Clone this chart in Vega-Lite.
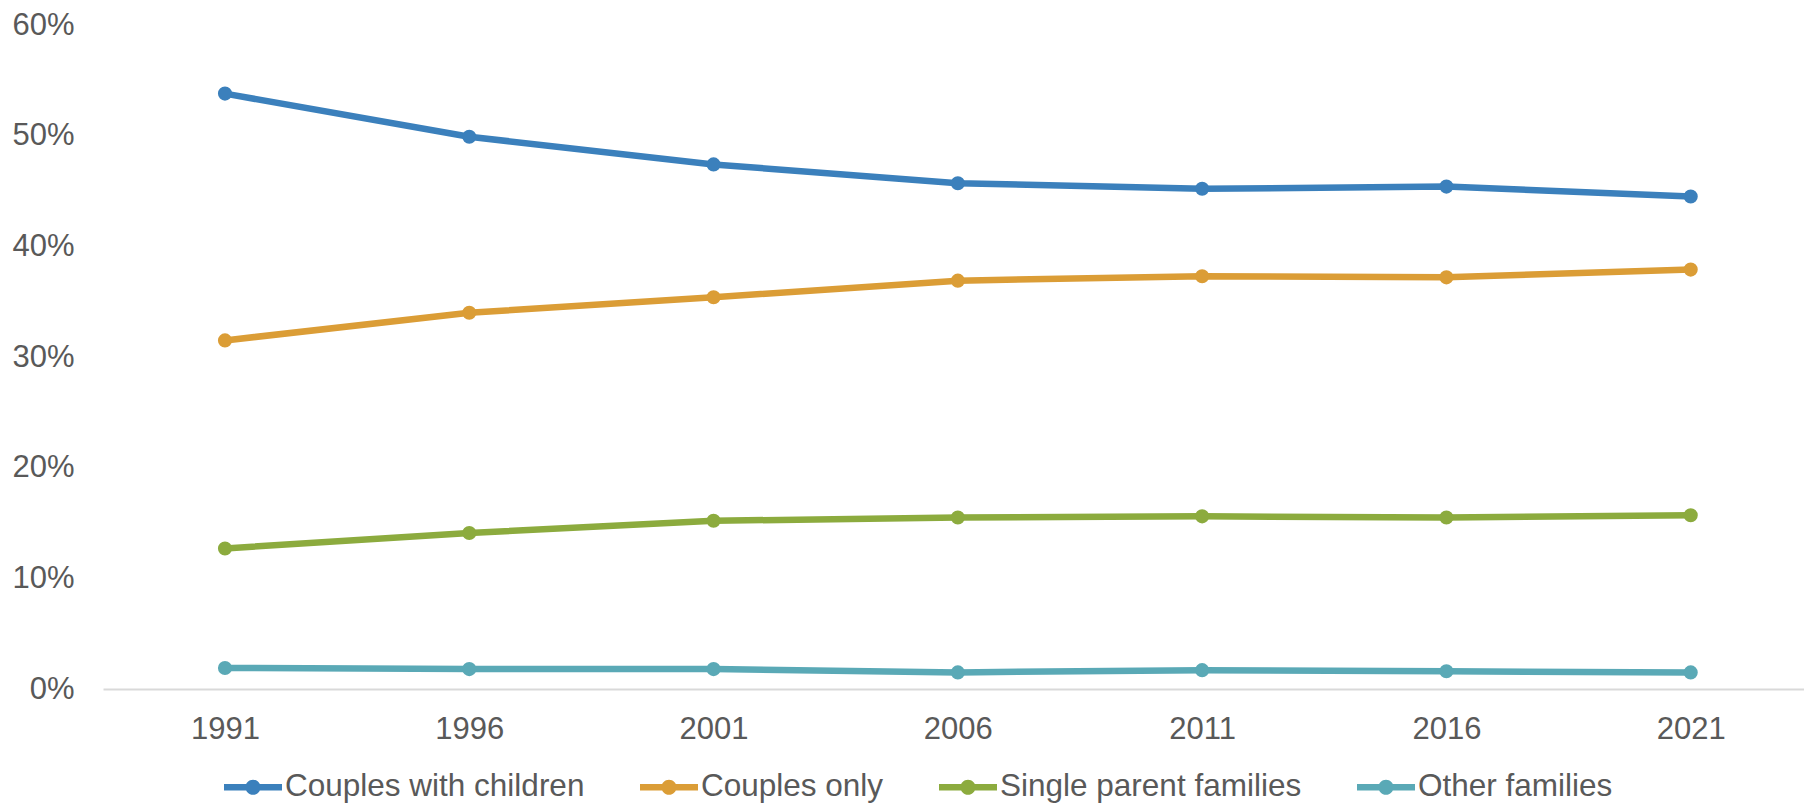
{
  "$schema": "https://vega.github.io/schema/vega-lite/v6.json",
  "width": 1701,
  "height": 664,
  "autosize": {"type": "none"},
  "padding": {"left": 103, "top": 25, "right": 0, "bottom": 116},
  "background": "#ffffff",
  "config": {
    "view": {"stroke": null},
    "font": "Liberation Sans",
    "axis": {"labelFont": "Liberation Sans", "labelColor": "#595959", "labelFontSize": 31, "ticks": false, "tickSize": 0, "grid": false, "title": null},
    "legend": {"labelFont": "Liberation Sans", "labelColor": "#595959", "labelFontSize": 31.5, "labelLimit": 0}
  },
  "data": {
    "values": [
      {"year": 1991, "type": "Couples with children", "share": 0.538},
      {"year": 1996, "type": "Couples with children", "share": 0.499},
      {"year": 2001, "type": "Couples with children", "share": 0.474},
      {"year": 2006, "type": "Couples with children", "share": 0.457},
      {"year": 2011, "type": "Couples with children", "share": 0.452},
      {"year": 2016, "type": "Couples with children", "share": 0.454},
      {"year": 2021, "type": "Couples with children", "share": 0.445},
      {"year": 1991, "type": "Couples only", "share": 0.315},
      {"year": 1996, "type": "Couples only", "share": 0.340},
      {"year": 2001, "type": "Couples only", "share": 0.354},
      {"year": 2006, "type": "Couples only", "share": 0.369},
      {"year": 2011, "type": "Couples only", "share": 0.373},
      {"year": 2016, "type": "Couples only", "share": 0.372},
      {"year": 2021, "type": "Couples only", "share": 0.379},
      {"year": 1991, "type": "Single parent families", "share": 0.127},
      {"year": 1996, "type": "Single parent families", "share": 0.141},
      {"year": 2001, "type": "Single parent families", "share": 0.152},
      {"year": 2006, "type": "Single parent families", "share": 0.155},
      {"year": 2011, "type": "Single parent families", "share": 0.156},
      {"year": 2016, "type": "Single parent families", "share": 0.155},
      {"year": 2021, "type": "Single parent families", "share": 0.157},
      {"year": 1991, "type": "Other families", "share": 0.019},
      {"year": 1996, "type": "Other families", "share": 0.018},
      {"year": 2001, "type": "Other families", "share": 0.018},
      {"year": 2006, "type": "Other families", "share": 0.015},
      {"year": 2011, "type": "Other families", "share": 0.017},
      {"year": 2016, "type": "Other families", "share": 0.016},
      {"year": 2021, "type": "Other families", "share": 0.015}
    ]
  },
  "encoding": {
    "x": {
      "field": "year", "type": "quantitative",
      "scale": {"domain": [1988.503, 2023.319], "nice": false, "zero": false},
      "axis": {"values": [1991, 1996, 2001, 2006, 2011, 2016, 2021], "format": "d", "domain": true, "domainColor": "#D9D9D9", "domainWidth": 2, "labelPadding": 40, "labelBaseline": "middle", "labelFlush": false}
    },
    "y": {
      "field": "share", "type": "quantitative",
      "scale": {"domain": [0, 0.6], "nice": false},
      "axis": {"values": [0, 0.1, 0.2, 0.3, 0.4, 0.5, 0.6], "format": ".0%", "domain": false, "labelPadding": 29}
    },
    "color": {
      "field": "type", "type": "nominal",
      "scale": {
        "domain": ["Couples with children", "Couples only", "Single parent families", "Other families"],
        "range": ["#3B80BC", "#DB9D36", "#8CAB3E", "#5AA9B6"]
      },
      "legend": {
        "title": null,
        "orient": "none",
        "direction": "horizontal",
        "columns": 4,
        "legendX": 121,
        "legendY": 733,
        "padding": 0,
        "columnPadding": 55,
        "labelOffset": 3,
        "labelLimit": 0,
        "symbolType": "M-1,-0.11H1V0.11H-1Z M-0.26,0A0.26,0.26 0 1,1 0.26,0A0.26,0.26 0 1,1 -0.26,0Z",
        "symbolSize": 3364,
        "symbolStrokeWidth": 0,
        "symbolOpacity": 1
      }
    }
  },
  "layer": [
    {"mark": {"type": "line", "strokeWidth": 6.5, "strokeCap": "round", "strokeJoin": "round"}},
    {"mark": {"type": "point", "filled": true, "size": 200, "opacity": 1}}
  ]
}
